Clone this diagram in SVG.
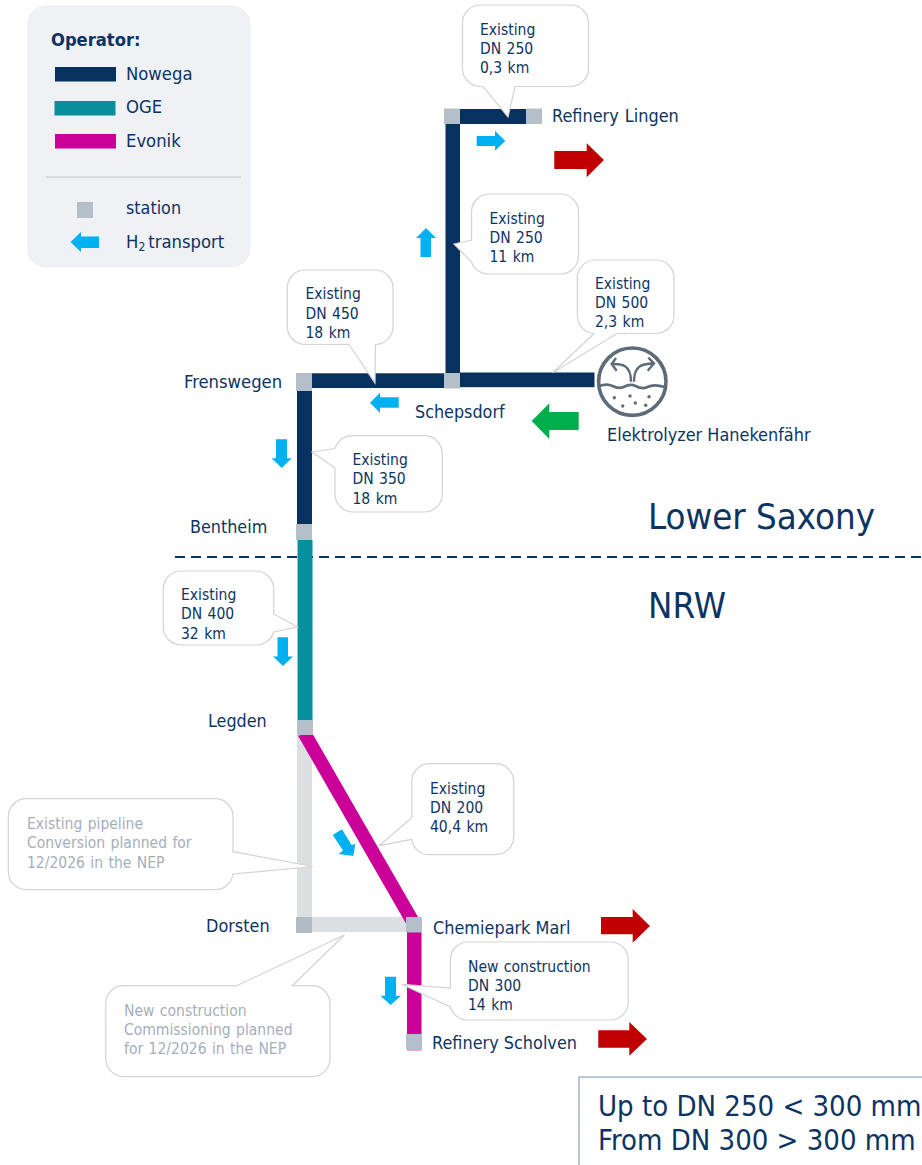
<svg xmlns="http://www.w3.org/2000/svg" width="922" height="1165" viewBox="0 0 922 1165">
<style>
text{font-family:"DejaVu Sans","Liberation Sans",sans-serif;font-stretch:condensed;fill:#0c3463}
.l{font-size:17.8px}
.c{font-size:15.5px;word-spacing:1px}
.g{fill:#a7aeba}
.big{font-size:36.3px}
.box{font-size:29px}
.call{fill:#fff;stroke:#d5d3d0;stroke-width:1.2}
.st{fill:#b4bfca}
.nw{fill:#07315f}
.og{fill:#078f9d}
.ev{fill:#cb0098}
.gy{fill:#dce0e3}
.bl{fill:#00b1f2}
.rd{fill:#c00000}
.gn{fill:#00ae4c}
</style>
<rect width="922" height="1165" fill="#fff"/>
<g id="legend">
<rect x="27" y="5.5" width="223.5" height="262" rx="19" fill="#eff1f5"/>
<text x="51" y="46" style="font-size:18.2px;font-weight:bold">Operator:</text>
<rect x="55" y="67" width="61" height="14.5" class="nw"/><text x="126" y="80" style="font-size:18.3px">Nowega</text>
<rect x="54.500" y="101" width="61" height="14.5" class="og"/><text x="126" y="113" style="font-size:18.3px">OGE</text>
<rect x="55" y="134" width="61" height="14.5" class="ev"/><text x="126" y="147" style="font-size:18.3px">Evonik</text>
<rect x="46" y="176.300" width="195" height="1.5" fill="#d2d2d4"/>
<rect x="77" y="202" width="16" height="16" class="st"/><text x="126" y="214" class="l">station</text>
<polygon points="70.5,242 81,232 81,236.5 99,236.5 99,248 81,248 81,252" class="bl"/>
<text x="126" y="248" style="font-size:18.3px">H<tspan font-size="12" dy="3">2</tspan><tspan dy="-3" dx="3">transport</tspan></text>
</g>
<line x1="175" y1="557" x2="922" y2="557" stroke="#07315f" stroke-width="2" stroke-dasharray="10 6"/>
<g id="connectors">
<rect x="297" y="735" width="15" height="182" class="gy"/>
<rect x="312" y="917" width="95" height="15" class="gy"/>
<polygon points="298,735.700 311.700,732.300 418,917 406,923.500" class="ev"/>
<rect x="460" y="109" width="66" height="15" class="nw"/>
<rect x="445.500" y="124" width="14.5" height="249" class="nw"/>
<rect x="312" y="373.300" width="132" height="14.7" class="nw"/>
<rect x="460" y="372.500" width="134.5" height="14.7" class="nw"/>
<rect x="297" y="391" width="15" height="133" class="nw"/>
<rect x="297.500" y="540" width="15" height="180" class="og"/>
<rect x="407" y="932" width="14.5" height="102" class="ev"/>
<rect x="407" y="1049" width="14.5" height="2" fill="#e8a0d4"/>
</g>
<g id="station-lingen-w"><rect x="444" y="108.500" width="16" height="15.5" class="st"/></g>
<g id="station-lingen-e"><rect x="526" y="108.500" width="16" height="15.5" class="st"/></g>
<g id="station-frenswegen"><rect x="296" y="373" width="16" height="18" class="st"/><text x="184" y="388" style="font-size:18.3px">Frenswegen</text></g>
<g id="station-schepsdorf"><rect x="444" y="373" width="16" height="15.5" class="st"/><text x="415" y="418" class="l">Schepsdorf</text></g>
<g id="station-bentheim"><rect x="296" y="524" width="16" height="16" class="st"/><text x="190" y="533" class="l">Bentheim</text></g>
<g id="station-legden"><rect x="297" y="720" width="16" height="15" class="st"/><text x="208" y="727" class="l">Legden</text></g>
<g id="station-dorsten"><rect x="296" y="917" width="16" height="16" fill="#b0bbc6"/><text x="206" y="932" style="font-size:17.9px">Dorsten</text></g>
<g id="station-marl"><rect x="406" y="917" width="16" height="15.5" class="st"/><text x="433" y="934" style="font-size:17.9px">Chemiepark Marl</text></g>
<g id="station-scholven"><rect x="406" y="1034" width="16" height="15.5" class="st"/><text x="432" y="1049" style="font-size:17.9px">Refinery Scholven</text></g>
<text x="552" y="122" style="font-size:17.9px" word-spacing="1">Refinery Lingen</text>
<g id="electrolyzer" fill="none" stroke="#5f6b7a" stroke-width="3">
<circle cx="632.300" cy="381.700" r="33.700" stroke-width="3.6"/>
<path d="M599.500,386c5-2 9-2 13,0s7,3 11,1 8-3 12-1 8,3 12,1 8-3 17,0" stroke-width="2.800"/>
<path d="M631,381.700c0-9-2-13-6-15.500s-9-2-13.300-2.200M616,358l-4.300,6 5,6.700" stroke-width="2.400"/>
<path d="M634,381.700c0-9 2-13 6-15.500s9-2.400 14-2.900M648.300,357.700l5.700,5.600-6.300,7.400" stroke-width="2.400"/>
<g fill="#5f6b7a" stroke="none"><circle cx="614.300" cy="397.700" r="1.7"/><circle cx="630" cy="396" r="1.7"/><circle cx="649" cy="396.700" r="1.7"/><circle cx="622.700" cy="406" r="1.7"/><circle cx="635.300" cy="403" r="1.7"/><circle cx="645.700" cy="405.300" r="1.7"/></g>
<text x="607" y="441" style="font-size:17.9px" stroke="none">Elektrolyzer Hanekenfähr</text>
</g>
<g id="flow-arrows">
<polygon points="476.7,136 495,136 495,130.7 505.3,141 495,150.7 495,146 476.7,146" class="bl"/>
<polygon points="426,228 436,238 431,238 431,257 420.5,257 420.5,238 416,238" class="bl"/>
<polygon points="370,402.7 380,392.7 380,397.3 398.7,397.3 398.7,407.7 380,407.7 380,413" class="bl"/>
<polygon points="276,439.3 287,439.3 287,458.3 291.7,458.3 281.7,468 271.7,458.3 276,458.3" class="bl"/>
<polygon points="277.5,637.3 288,637.3 288,656.5 293,656.5 283,666 273,656.5 277.5,656.5" class="bl"/>
<polygon points="385,976.7 396,976.7 396,995.7 401,995.7 390.7,1005 380.3,995.7 385,995.7" class="bl"/>
<polygon points="332.7,835 342,829.3 351.6,845 355.3,844 353.3,856 338.7,854 343,850.6" class="bl"/>
<polygon points="554.3,151 586.7,151 586.7,143.3 604,160 586.7,177.3 586.7,169 554.3,169" class="rd"/>
<polygon points="601,917 632.7,917 632.7,909 650,926 632.7,942.7 632.7,934.3 601,934.3" class="rd"/>
<polygon points="598.3,1030.3 629.3,1030.3 629.3,1022 647,1039 629.3,1055.7 629.3,1047.7 598.3,1047.7" class="rd"/>
<polygon points="531.7,421 549.3,403.3 549.3,412 578.7,412 578.7,430 549.3,430 549.3,439" class="gn"/>
</g>
<g id="callout-dn250-03">
<path class="call" d="M480.500,5H570.500a18,18 0 0 1 18,18V68.500a18,18 0 0 1-18,18H515L508,117L483,86.500H480.500a18,18 0 0 1-18-18V23a18,18 0 0 1 18-18Z"/>
<text x="480" y="35" class="c">Existing</text><text x="480" y="54" class="c">DN 250</text><text x="480" y="73" class="c">0,3 km</text>
</g>
<g id="callout-dn250-11">
<path class="call" d="M489.500,194H560.500a18,18 0 0 1 18,18V256a18,18 0 0 1-18,18H489.500A18,18 0 0 1 471.500,262L454,244L471.500,240V212a18,18 0 0 1 18-18Z"/>
<text x="489.500" y="224" class="c">Existing</text><text x="489.500" y="243" class="c">DN 250</text><text x="489.500" y="262" class="c">11 km</text>
</g>
<g id="callout-dn500">
<path class="call" d="M595,260H656a18,18 0 0 1 18,18V315.500a18,18 0 0 1-18,18H617L552.700,372.700L594,333.500a18,18 0 0 1-16.700-18V278a18,18 0 0 1 17.700-18Z"/>
<text x="595" y="289" class="c">Existing</text><text x="595" y="308" class="c">DN 500</text><text x="595" y="327" class="c">2,3 km</text>
</g>
<g id="callout-dn450">
<path class="call" d="M305.300,270H375a18,18 0 0 1 18,18V326.500a18,18 0 0 1-17.500,18L375,383L349,344.500H305.300a18,18 0 0 1-18-18V288a18,18 0 0 1 18-18Z"/>
<text x="305.500" y="299" class="c">Existing</text><text x="305.500" y="319" class="c">DN 450</text><text x="305.500" y="338" class="c">18 km</text>
</g>
<g id="callout-dn350">
<path class="call" d="M353,435.700H424.300a18,18 0 0 1 18,18V494a18,18 0 0 1-18,18H353a18,18 0 0 1-18-18V468L312,452L335,448.500A18,18 0 0 1 353,435.700Z"/>
<text x="352.500" y="465" class="c">Existing</text><text x="352.500" y="484" class="c">DN 350</text><text x="352.500" y="504" class="c">18 km</text>
</g>
<g id="callout-dn400">
<path class="call" d="M181.300,571H255.700a18,18 0 0 1 18,18V614L297.500,627L273.700,632A18,18 0 0 1 255.700,645H181.300a18,18 0 0 1-18-18V589a18,18 0 0 1 18-18Z"/>
<text x="181" y="600" class="c">Existing</text><text x="181" y="619" class="c">DN 400</text><text x="181" y="639" class="c">32 km</text>
</g>
<g id="callout-conversion">
<path class="call" d="M26.300,798.700H215a18,18 0 0 1 18,18V851.700L313,866.500L233,874A18,18 0 0 1 215,889.700H26.300a18,18 0 0 1-18-18V816.700a18,18 0 0 1 18-18Z"/>
<text x="27" y="829" class="c g">Existing pipeline</text><text x="27" y="848" class="c g">Conversion planned for</text><text x="27" y="868" class="c g">12/2026 in the NEP</text>
</g>
<g id="callout-commissioning">
<path class="call" d="M123.700,985.700H236.700L344.300,935L292.300,985.700H312a18,18 0 0 1 18,18V1058.700a18,18 0 0 1-18,18H123.700a18,18 0 0 1-18-18V1003.700a18,18 0 0 1 18-18Z"/>
<text x="124" y="1016" class="c g">New construction</text><text x="124" y="1035" class="c g">Commissioning planned</text><text x="124" y="1054" class="c g">for 12/2026 in the NEP</text>
</g>
<g id="callout-dn200">
<path class="call" d="M429.700,763.700H495.700a18,18 0 0 1 18,18V836.700a18,18 0 0 1-18,18H429.700a18,18 0 0 1-18-15.400L379.300,845.700L411.700,817.700V781.700a18,18 0 0 1 18-18Z"/>
<text x="430" y="794" class="c">Existing</text><text x="430" y="813" class="c">DN 200</text><text x="430" y="832" class="c">40,4 km</text>
</g>
<g id="callout-dn300">
<path class="call" d="M468.300,942H610.300a18,18 0 0 1 18,18V1002a18,18 0 0 1-18,18H468.300a18,18 0 0 1-18-13L401.700,984.300L450.300,988V960a18,18 0 0 1 18-18Z"/>
<text x="468" y="972" class="c">New construction</text><text x="468" y="991" class="c">DN 300</text><text x="468" y="1010" class="c">14 km</text>
</g>
<text x="648" y="529" class="big">Lower Saxony</text>
<text x="648" y="618" class="big">NRW</text>
<g id="dn-note">
<path d="M922,1077H579V1165" fill="none" stroke="#bcc8d3" stroke-width="2"/>
<text x="598" y="1116" class="box">Up to DN 250 &lt; 300 mm</text>
<text x="598" y="1150" class="box">From DN 300 &gt; 300 mm</text>
</g>
</svg>
